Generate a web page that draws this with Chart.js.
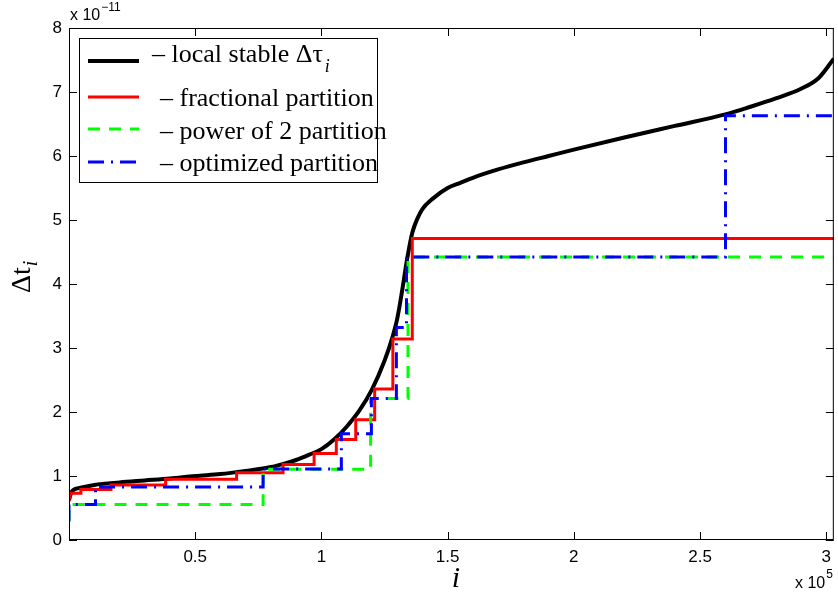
<!DOCTYPE html>
<html>
<head>
<meta charset="utf-8">
<script src="https://cdn.jsdelivr.net/npm/chart.js@4.4.1/dist/chart.umd.min.js"></script>
<style>
  html, body { margin: 0; padding: 0; background: #fff; }
  #wrap { width: 838px; height: 597px; }
</style>
</head>
<body>
<div id="wrap"><canvas id="chart" width="838" height="597"></canvas></div>
<script>
// i is in units of 1e5, time steps in units of 1e-11 (as on the axes)
const localI = [0, 0.005, 0.01, 0.02, 0.05, 0.1, 0.2, 0.3, 0.4, 0.5, 0.6, 0.7, 0.8, 0.85, 0.9, 0.95,
  1.0, 1.05, 1.1, 1.15, 1.2, 1.25, 1.28, 1.3, 1.32, 1.34, 1.36, 1.38, 1.4, 1.44, 1.5, 1.55, 1.6,
  1.7, 1.8, 1.9, 2.0, 2.2, 2.4, 2.6, 2.7, 2.8, 2.9, 2.97, 3.03];
const localDt = [0.62, 0.7, 0.75, 0.79, 0.82, 0.86, 0.9, 0.93, 0.96, 1.0, 1.03, 1.08, 1.14, 1.19, 1.25, 1.33,
  1.42, 1.57, 1.77, 2.02, 2.35, 2.8, 3.15, 3.45, 3.9, 4.4, 4.8, 5.02, 5.17, 5.33, 5.5, 5.58, 5.66,
  5.79, 5.9, 6.0, 6.1, 6.29, 6.47, 6.65, 6.77, 6.9, 7.05, 7.22, 7.52];

const fracI = [0, 0, 0.003, 0.047, 0.166, 0.383, 0.664, 0.848, 0.971, 1.059, 1.136, 1.211, 1.283, 1.36, 3.03];
const fracDt = [0.6, 0.67, 0.73, 0.79, 0.86, 0.95, 1.05, 1.18, 1.35, 1.57, 1.88, 2.36, 3.14, 4.71, 4.71];

const pow2I = [0, 0, 0.769, 1.195, 1.343, 3.03];
const pow2Dt = [0.28, 0.553, 1.105, 2.21, 4.42, 4.42];

const optI = [0, 0, 0.105, 0.769, 1.079, 1.198, 1.297, 1.337, 2.601, 3.03];
const optDt = [0.3, 0.553, 0.83, 1.11, 1.66, 2.21, 3.32, 4.42, 6.63, 6.63];

const xTickValues = [0, 0.5, 1, 1.5, 2, 2.5, 3];
const yTickValues = [0, 1, 2, 3, 4, 5, 6, 7, 8];

const legendLabels = ["\u2013 local stable \u0394\u03C4", "\u2013 fractional partition",
  "\u2013 power of 2 partition", "\u2013 optimized partition"];

const toPoints = (xs, ys) => xs.map((x, k) => ({ x: x, y: ys[k] }));

const SANS = "'Liberation Sans', Arial, sans-serif";
const SERIF = "'Liberation Serif', 'Times New Roman', serif";

// box, inner ticks, legend and the matlab-like labels
const framePlugin = {
  id: "frame",
  afterDraw(chart) {
    const ctx = chart.ctx;
    const a = chart.chartArea;
    const xs = chart.scales.x;
    const ys = chart.scales.y;
    ctx.save();
    ctx.strokeStyle = "#000";
    ctx.lineWidth = 1;
    ctx.setLineDash([]);
    ctx.strokeRect(a.left + 0.5, a.top + 0.5, a.right - a.left - 1, a.bottom - a.top - 1);
    const tl = 8;
    ctx.beginPath();
    xs.ticks.forEach((t) => {
      const px = Math.round(xs.getPixelForValue(t.value)) + 0.5;
      ctx.moveTo(px, a.bottom);
      ctx.lineTo(px, a.bottom - tl);
      ctx.moveTo(px, a.top);
      ctx.lineTo(px, a.top + tl);
    });
    ys.ticks.forEach((t) => {
      const py = Math.round(ys.getPixelForValue(t.value)) + 0.5;
      ctx.moveTo(a.left, py);
      ctx.lineTo(a.left + tl, py);
      ctx.moveTo(a.right, py);
      ctx.lineTo(a.right - tl, py);
    });
    ctx.stroke();

    // legend
    ctx.fillStyle = "#fff";
    ctx.fillRect(79, 38, 298, 144);
    ctx.strokeRect(79.5, 38.5, 298, 144);
    const rowsLine = [61, 97, 129, 162];
    const rowsText = [62, 106, 139, 171];
    const textX = [152, 160, 160, 160];
    chart.data.datasets.forEach((ds, k) => {
      ctx.beginPath();
      ctx.strokeStyle = ds.borderColor;
      ctx.lineWidth = ds.borderWidth;
      ctx.setLineDash(ds.borderDash || []);
      ctx.moveTo(88, rowsLine[k]);
      ctx.lineTo(139, rowsLine[k]);
      ctx.stroke();
      ctx.fillStyle = "#000";
      ctx.font = "26px " + SERIF;
      ctx.textAlign = "left";
      ctx.textBaseline = "alphabetic";
      ctx.fillText(ds.label, textX[k], rowsText[k]);
      if (k === 0) {
        const w = ctx.measureText(ds.label).width;
        ctx.font = "italic 18px " + SERIF;
        ctx.fillText("i", textX[k] + w + 2, rowsText[k] + 10);
      }
    });
    ctx.setLineDash([]);

    // axis titles
    ctx.fillStyle = "#000";
    ctx.font = "italic 30px " + SERIF;
    ctx.textAlign = "center";
    ctx.fillText("i", 456, 587);

    ctx.save();
    ctx.translate(30, 293);
    ctx.rotate(-Math.PI / 2);
    ctx.font = "28px " + SERIF;
    ctx.textAlign = "left";
    ctx.fillText("\u0394t", 0, 0);
    const dw = ctx.measureText("\u0394t").width;
    ctx.font = "italic 20px " + SERIF;
    ctx.fillText("i", dw + 1, 7);
    ctx.restore();

    // exponents
    ctx.textAlign = "left";
    ctx.font = "16px " + SANS;
    ctx.fillText("x 10", 70, 20);
    let w = ctx.measureText("x 10").width;
    ctx.font = "12px " + SANS;
    ctx.fillText("\u221211", 70 + w + 1, 11);
    ctx.font = "16px " + SANS;
    ctx.fillText("x 10", 795, 588);
    w = ctx.measureText("x 10").width;
    ctx.font = "12px " + SANS;
    ctx.fillText("5", 795 + w + 1, 578);
    ctx.restore();
  }
};

new Chart(document.getElementById("chart"), {
  type: "line",
  data: {
    datasets: [
      {
        label: legendLabels[0],
        data: toPoints(localI, localDt),
        borderColor: "#000000",
        borderWidth: 4,
        cubicInterpolationMode: "monotone",
        order: 4
      },
      {
        label: legendLabels[1],
        data: toPoints(fracI, fracDt),
        borderColor: "#ff0000",
        borderWidth: 3,
        stepped: "before",
        order: 3
      },
      {
        label: legendLabels[2],
        data: toPoints(pow2I, pow2Dt),
        borderColor: "#00ff00",
        borderWidth: 3,
        borderDash: [12, 9],
        stepped: "before",
        order: 2
      },
      {
        label: legendLabels[3],
        data: toPoints(optI, optDt),
        borderColor: "#0000ff",
        borderWidth: 3,
        borderDash: [16, 7, 2, 7],
        stepped: "before",
        order: 1
      }
    ]
  },
  options: {
    responsive: false,
    animation: false,
    layout: { padding: { left: 0, top: 28, right: 3, bottom: 0 } },
    elements: { point: { radius: 0 }, line: { fill: false } },
    plugins: { legend: { display: false }, tooltip: { enabled: false } },
    scales: {
      x: {
        type: "linear",
        min: 0,
        max: 3.03,
        grid: { display: false, drawTicks: false },
        border: { display: false },
        afterBuildTicks: (s) => { s.ticks = xTickValues.map((v) => ({ value: v })); },
        afterFit: (s) => { s.height = 57; },
        ticks: {
          color: "#000",
          padding: 7,
          maxRotation: 0,
          font: { family: SANS, size: 17 },
          callback: (v) => (v === 0 ? "" : String(v))
        }
      },
      y: {
        type: "linear",
        min: 0,
        max: 8,
        grid: { display: false, drawTicks: false },
        border: { display: false },
        afterBuildTicks: (s) => { s.ticks = yTickValues.map((v) => ({ value: v })); },
        afterFit: (s) => { s.width = 69; },
        ticks: {
          color: "#000",
          padding: 7,
          font: { family: SANS, size: 17 },
          callback: (v) => String(v)
        }
      }
    }
  },
  plugins: [framePlugin]
});
</script>
</body>
</html>
